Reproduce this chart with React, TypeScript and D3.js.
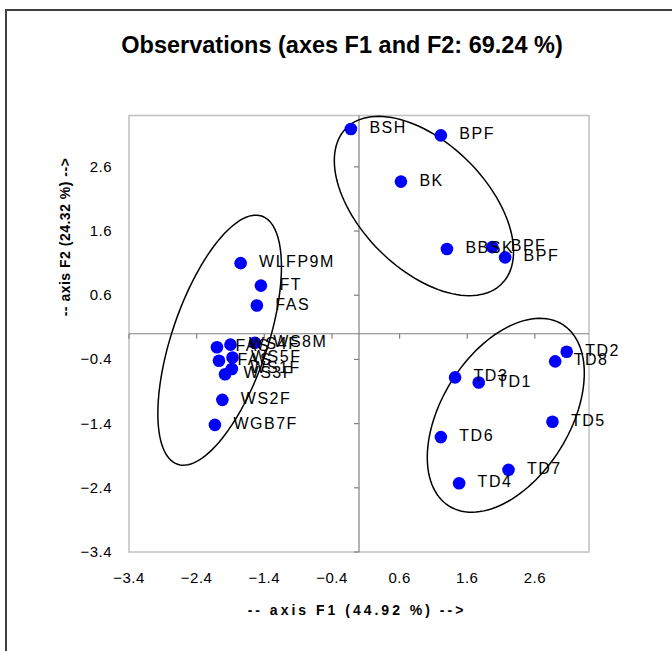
import React from "react";
import * as d3 from "d3";

const titleText = "Observations (axes F1 and F2: 69.24 %)";
const xTitle = "-- axis F1 (44.92 %) -->";
const yTitle = "-- axis F2 (24.32 %) -->";

const tickValues = [-3.4, -2.4, -1.4, -0.4, 0.6, 1.6, 2.6];

const labels = [
  "BSH", "BPF", "BK", "BBSK", "BPF", "BPF",
  "WLFP9M", "FT", "FAS", "FAS", "WS4F", "FAS", "WS5F", "WS1F", "WS3F", "WS8M", "WS2F", "WGB7F",
  "TD2", "TD8", "TD3", "TD1", "TD5", "TD6", "TD7", "TD4",
];
const f1 = [
  -0.12, 1.21, 0.62, 1.30, 1.97, 2.16,
  -1.75, -1.45, -1.51, -2.10, -1.90, -2.07, -1.87, -1.88, -1.98, -1.54, -2.02, -2.13,
  3.07, 2.90, 1.42, 1.77, 2.86, 1.21, 2.21, 1.48,
];
const f2 = [
  3.19, 3.09, 2.37, 1.32, 1.35, 1.19,
  1.10, 0.75, 0.44, -0.21, -0.17, -0.42, -0.37, -0.55, -0.63, -0.14, -1.03, -1.42,
  -0.28, -0.43, -0.68, -0.76, -1.37, -1.61, -2.12, -2.33,
];

// confidence ellipses: centre and two semi-axis vectors, in data units
const ellipseCx = [0.96, -2.06, 2.17];
const ellipseCy = [1.99, -0.10, -1.27];
const ellipseAx = [1.15, 0.62, 0.838];
const ellipseAy = [-1.212, 1.934, 1.415];
const ellipseBx = [-0.658, 0.671, 0.803];
const ellipseBy = [-0.694, -0.232, -0.528];

const W = 672;
const H = 651;
const left = 129;
const right = 589;
const top = 115.5;
const bottom = 552;
const font = "'Liberation Sans', Arial, sans-serif";

export default function App() {
  const x = d3.scaleLinear().domain([-3.4, 3.4]).range([left, right]);
  const y = d3.scaleLinear().domain([-3.4, 3.4]).range([bottom, top]);

  const ts = d3.range(0, 361, 3).map((d) => (d * Math.PI) / 180);
  const line = d3
    .line<[number, number]>()
    .x((d) => x(d[0]))
    .y((d) => y(d[1]))
    .curve(d3.curveLinearClosed);

  const ellipses = ellipseCx.map((cx, i) =>
    line(
      ts.map((t) => [
        cx + ellipseAx[i] * Math.cos(t) + ellipseBx[i] * Math.sin(t),
        ellipseCy[i] + ellipseAy[i] * Math.cos(t) + ellipseBy[i] * Math.sin(t),
      ] as [number, number])
    )
  );

  const x0 = x(0);
  const y0 = y(0);

  return (
    <svg
      width={W}
      height={H}
      style={{ position: "absolute", left: 0, top: 0, background: "#fff" }}
    >
      <rect x={0} y={0} width={W} height={H} fill="#fff" />
      <rect x={6} y={10} width={800} height={800} fill="none" stroke="#404040" strokeWidth={2} />
      <text
        x={342}
        y={53}
        textAnchor="middle"
        fontFamily={font}
        fontWeight="bold"
        fontSize={23.5}
        fill="#000"
      >
        {titleText}
      </text>

      <rect
        x={left}
        y={top}
        width={right - left}
        height={bottom - top}
        fill="none"
        stroke="#c0c0c0"
        strokeWidth={1.5}
      />
      {/* zero axes */}
      <line x1={left} x2={right} y1={y0} y2={y0} stroke="#808080" strokeWidth={1.2} />
      <line x1={x0} x2={x0} y1={top} y2={bottom} stroke="#808080" strokeWidth={1.2} />
      {tickValues.map((v) => (
        <line key={"xt" + v} x1={x(v)} x2={x(v)} y1={y0} y2={y0 + 5} stroke="#808080" strokeWidth={1.2} />
      ))}
      {tickValues.map((v) => (
        <line key={"yt" + v} x1={x0 - 5} x2={x0} y1={y(v)} y2={y(v)} stroke="#808080" strokeWidth={1.2} />
      ))}
      {tickValues.map((v) => (
        <text
          key={"xl" + v}
          x={x(v)}
          y={583}
          textAnchor="middle"
          fontFamily={font}
          fontSize={15}
          letterSpacing={0.5}
        >
          {d3.format(".1f")(v)}
        </text>
      ))}
      {tickValues.map((v) => (
        <text
          key={"yl" + v}
          x={112}
          y={y(v) + 5}
          textAnchor="end"
          fontFamily={font}
          fontSize={15}
          letterSpacing={0.5}
        >
          {d3.format(".1f")(v)}
        </text>
      ))}
      <text
        x={357}
        y={615}
        textAnchor="middle"
        fontFamily={font}
        fontWeight="bold"
        fontSize={14}
        letterSpacing={3}
      >
        {xTitle}
      </text>
      <text
        transform={`translate(70,237) rotate(-90)`}
        textAnchor="middle"
        fontFamily={font}
        fontWeight="bold"
        fontSize={14}
        letterSpacing={0.5}
      >
        {yTitle}
      </text>

      {ellipses.map((d, i) => (
        <path key={"e" + i} d={d || ""} fill="none" stroke="#000" strokeWidth={1.5} />
      ))}

      {labels.map((l, i) => (
        <circle key={"p" + i} cx={x(f1[i])} cy={y(f2[i])} r={6.3} fill="#0000ff" />
      ))}
      {labels.map((l, i) => (
        <text
          key={"t" + i}
          x={x(f1[i]) + 18.5}
          y={y(f2[i]) + 4}
          fontFamily={font}
          fontSize={16}
          letterSpacing={1.5}
          fill="#000"
        >
          {l}
        </text>
      ))}
    </svg>
  );
}
